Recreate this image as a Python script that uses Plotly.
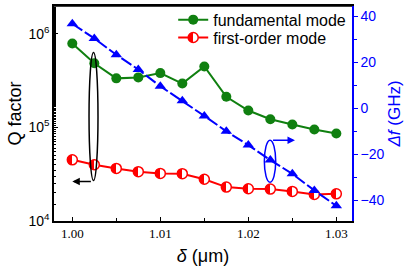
import plotly.graph_objects as go

delta = [1.000, 1.0025, 1.005, 1.0075, 1.010, 1.0125, 1.015, 1.0175, 1.020, 1.0225, 1.025, 1.0275, 1.030]
q_fundamental = [7.85e5, 4.83e5, 3.33e5, 3.41e5, 3.79e5, 2.93e5, 4.46e5, 2.12e5, 1.51e5, 1.22e5, 1.07e5, 9.46e4, 8.6e4]
q_first = [4.5e4, 3.98e4, 3.64e4, 3.36e4, 3.22e4, 3.2e4, 2.79e4, 2.3e4, 2.21e4, 2.19e4, 2.07e4, 1.92e4, 1.95e4]
df_ghz = [36.8, 30.4, 23.3, 16.9, 9.6, 3.3, -3.3, -10.0, -16.0, -22.5, -28.5, -35.7, -42.4]

x_ticks = [1.00, 1.01, 1.02, 1.03]
x_labels = ["1.00", "1.01", "1.02", "1.03"]
yq_ticks = [1e4, 1e5, 1e6]
yq_labels = ["10<sup>4</sup>", "10<sup>5</sup>", "10<sup>6</sup>"]
ydf_ticks = [-40, -20, 0, 20, 40]

sans = "Liberation Sans, Arial, sans-serif"
serif = "Liberation Serif, Times New Roman, serif"
BLUE = "#0000ff"

fig = go.Figure()
fig.add_trace(go.Scatter(
    x=delta, y=df_ghz, yaxis="y2", mode="lines+markers", showlegend=False,
    line=dict(color=BLUE, width=2, dash="12px,3px"),
    marker=dict(symbol="triangle-up", size=10, color=BLUE)))
fig.add_trace(go.Scatter(
    x=delta, y=q_fundamental, mode="lines+markers", name="fundamental mode",
    legend="legend",
    line=dict(color="#108010", width=2),
    marker=dict(symbol="circle", size=10, color="#108010")))
fig.add_trace(go.Scatter(
    x=delta, y=q_first, mode="lines+markers", name="first-order mode",
    legend="legend2",
    line=dict(color="#ff0000", width=2),
    marker=dict(symbol="circle", size=10, color="#ff0000",
                gradient=dict(type="horizontal", color="#ffffff"),
                line=dict(color="#ff0000", width=1.5))))

# ellipses and arrows
fig.add_shape(type="circle", xref="x", yref="paper", x0=1.0019, x1=1.00292,
              y0=0.188, y1=0.784, line=dict(color="black", width=1.5))
fig.add_annotation(x=1.0, y=0.1835, ax=1.00245, ay=0, xref="x", yref="paper",
                   axref="x", ayref="pixel", showarrow=True, arrowhead=2,
                   arrowsize=1, arrowwidth=1.5, arrowcolor="black", text=" ")
fig.add_shape(type="circle", xref="x", yref="paper", x0=1.02182, x1=1.02311,
              y0=0.180, y1=0.376, line=dict(color=BLUE, width=1.5))
fig.add_annotation(x=1.0253, y=0.376, ax=1.02247, ay=0, xref="x", yref="paper",
                   axref="x", ayref="pixel", showarrow=True, arrowhead=2,
                   arrowsize=1, arrowwidth=1.5, arrowcolor=BLUE, text=" ")

leg_common = dict(xanchor="left", yanchor="middle",
                  font=dict(family=sans, size=16, color="black"),
                  bgcolor="rgba(0,0,0,0)", itemwidth=30)
fig.update_layout(
    width=408, height=269,
    margin=dict(l=54, r=56, t=3, b=48),
    paper_bgcolor="white", plot_bgcolor="white",
    showlegend=True,
    legend=dict(x=0.40, y=0.936, **leg_common),
    legend2=dict(x=0.40, y=0.853, **leg_common),
    xaxis=dict(range=[0.99792, 1.03178], tickvals=x_ticks, ticktext=x_labels,
               ticks="inside", ticklen=4, tickcolor="black", automargin=False,
               minor=dict(dtick=0.005, tick0=1.0, ticks="inside", ticklen=3, tickcolor="black"),
               showline=True, linecolor="black", linewidth=1.5, mirror=True,
               showgrid=False, zeroline=False,
               tickfont=dict(family=serif, size=13, color="black"),
               title=dict(text="<i>δ</i> (μm)", font=dict(family=sans, size=18, color="black"),
                          standoff=9)),
    yaxis=dict(type="log", range=[4, 6.295], tickvals=yq_ticks, ticktext=yq_labels,
               ticks="inside", ticklen=4, tickcolor="black", automargin=False,
               minor=dict(ticks="inside", ticklen=2, tickcolor="black", showgrid=False),
               showline=True, linecolor="black", linewidth=1.5, mirror=False,
               showgrid=False, zeroline=False,
               tickfont=dict(family=sans, size=14, color="black"),
               title=dict(text="Q factor", font=dict(family=sans, size=18, color="black"),
                          standoff=2)),
    yaxis2=dict(overlaying="y", side="right", range=[-49, 44.5], tickvals=ydf_ticks,
                ticks="outside", ticklen=4, tickcolor=BLUE, automargin=False,
                minor=dict(dtick=10, tick0=0, ticks="outside", ticklen=3, tickcolor=BLUE),
                showline=True, linecolor=BLUE, linewidth=1.5,
                showgrid=False, zeroline=False,
                tickfont=dict(family=sans, size=14, color=BLUE),
                title=dict(text="<i>Δf</i> (GHz)", font=dict(family=sans, size=17, color=BLUE),
                           standoff=4)),
)
# top frame line
fig.add_shape(type="line", xref="paper", yref="paper", x0=0, x1=1, y0=1, y1=1,
              line=dict(color="black", width=1.5))

post = """
document.body.style.margin='0';
document.body.style.overflow='hidden';
function halfFill(){
  document.querySelectorAll('linearGradient').forEach(function(g){
    var s = g.querySelectorAll('stop');
    if (s.length >= 2) {
      s[0].setAttribute('offset','50%');
      s[s.length-1].setAttribute('offset','50%');
    }
  });
}
halfFill();
setTimeout(halfFill, 50);
"""
fig.write_html("out.html", post_script=post, config={"displayModeBar": False})
